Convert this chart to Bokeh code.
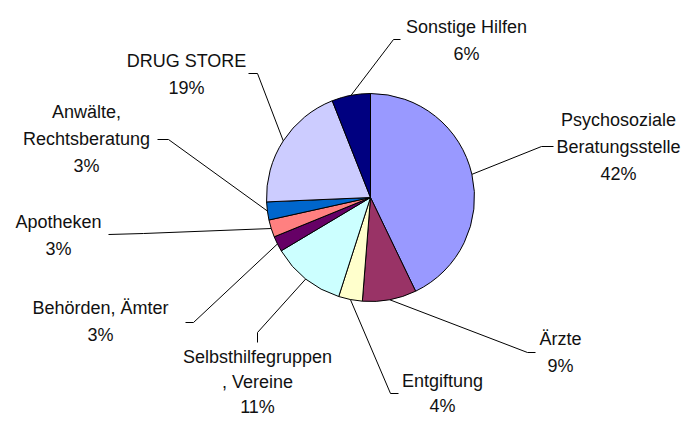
import math
from bokeh.plotting import figure
from bokeh.models import Range1d, ColumnDataSource
from bokeh.embed import file_html
from bokeh.resources import INLINE
from bokeh.core.properties import value

# ---- data (clockwise from 12 o'clock) ----
categories = ["Psychosoziale Beratungsstelle", "Ärzte", "Entgiftung",
              "Selbsthilfegruppen, Vereine", "Behörden, Ämter", "Apotheken",
              "Anwälte, Rechtsberatung", "DRUG STORE", "Sonstige Hilfen"]
values = [42.9, 8.4, 3.7, 11.5, 2.4, 2.7, 2.8, 19.7, 6.0]
label_lines = [["Psychosoziale", "Beratungsstelle"], ["Ärzte"], ["Entgiftung"],
               ["Selbsthilfegruppen", ", Vereine"], ["Behörden, Ämter"], ["Apotheken"],
               ["Anwälte,", "Rechtsberatung"], ["DRUG STORE"], ["Sonstige Hilfen"]]
pct_labels = ["42%", "9%", "4%", "11%", "3%", "3%", "3%", "19%", "6%"]
colors = ["#9999FF", "#993366", "#FFFFCC", "#CCFFFF", "#660066", "#FF8080",
          "#0066CC", "#CCCCFF", "#000080"]

# ---- layout (pixels from the figure's top-left corner) ----
W, H = 682, 415
CX, CY, R = 370, 197, 104
# label centre x, first line centre y, line spacing, leader elbow, leader end
layout = [
    (618, 119.5, 27, (541, 146), (553, 146)),
    (560, 338, 27, (527, 352), (535, 352)),
    (442, 380, 25, (390, 393), (398, 393)),
    (257, 356, 25, (257, 332), (257, 342)),
    (100, 307, 27, (193, 322), (185, 322)),
    (58, 221, 27, (143, 233), (108, 234)),
    (86, 111, 27, (168, 139), (157, 139)),
    (186, 60, 27, (257, 73), (248, 73)),
    (466, 26, 27, (393, 39), (400, 39)),
]

p = figure(width=W, height=H, output_backend="svg", toolbar_location=None,
           x_range=Range1d(-CX, W - CX),
           y_range=Range1d(CY - H, CY),
           min_border=0, x_axis_location=None, y_axis_location=None,
           outline_line_color=None, background_fill_color="white",
           border_fill_color="white")
p.grid.visible = False

total = sum(values)
starts, ends, mids = [], [], []
cum = 0.0
for v in values:
    t0 = cum / total * 2 * math.pi
    cum += v
    t1 = cum / total * 2 * math.pi
    starts.append(math.pi / 2 - t0)
    ends.append(math.pi / 2 - t1)
    mids.append((t0 + t1) / 2)

src = ColumnDataSource(dict(start=starts, end=ends, color=colors, cat=categories))
p.wedge(x=0, y=0, radius=R, start_angle="start", end_angle="end",
        direction="clock", fill_color="color", line_color="black",
        line_width=1, source=src)

xs, ys = [], []
tx, ty, tt = [], [], []
for i, (lx, ly0, lh, elbow, end) in enumerate(layout):
    m = mids[i]
    sx0, sy0 = R * math.sin(m), R * math.cos(m)
    xs.append([sx0, elbow[0] - CX, end[0] - CX])
    ys.append([sy0, CY - elbow[1], CY - end[1]])
    lines = label_lines[i] + [pct_labels[i]]
    for k, s in enumerate(lines):
        tx.append(lx - CX)
        ty.append(CY - (ly0 + k * lh))
        tt.append(s)

p.multi_line(xs=xs, ys=ys, line_color="black", line_width=1)
p.text(x=tx, y=ty, text=tt, text_font=value("Liberation Sans"),
       text_font_size="18px", text_align="center", text_baseline="middle",
       text_color="#111111")

open("out.html", "w").write(file_html(p, INLINE))
